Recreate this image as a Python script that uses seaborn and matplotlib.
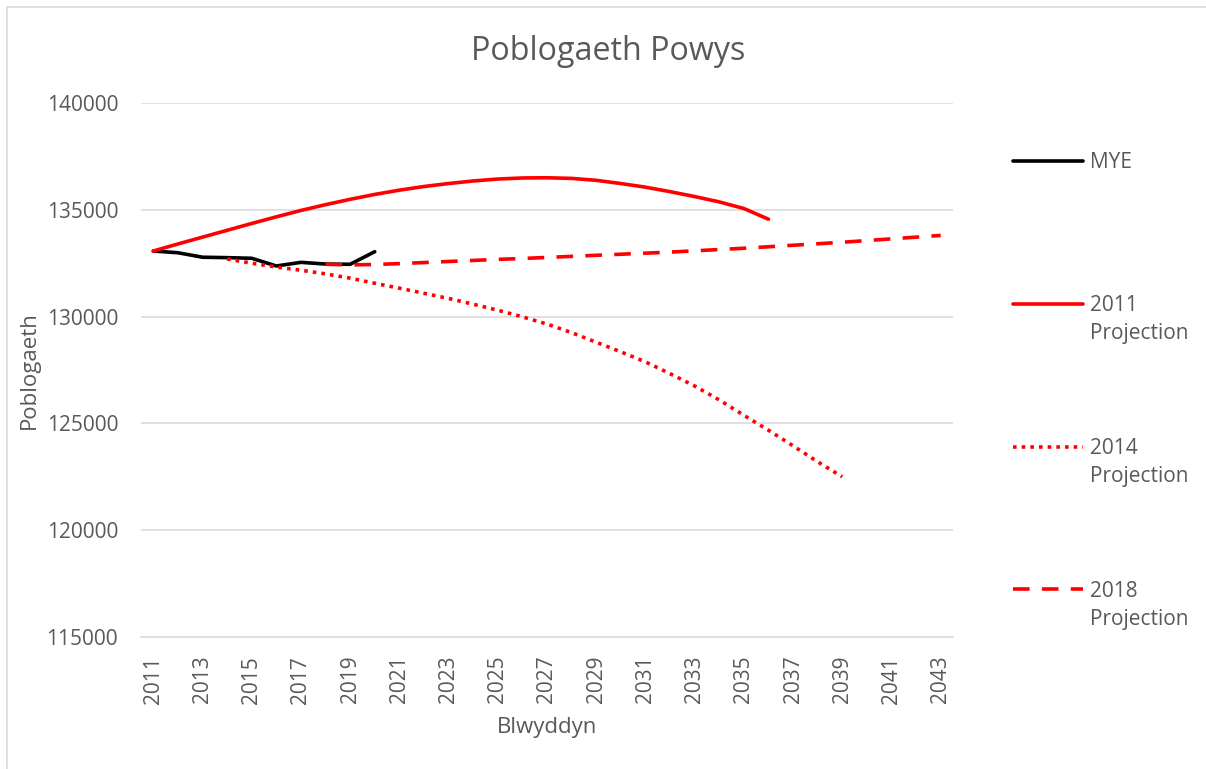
import matplotlib
matplotlib.use("Agg")
import pandas as pd
import matplotlib.pyplot as plt
from matplotlib.lines import Line2D
from matplotlib.ticker import FixedLocator, StrMethodFormatter
import seaborn as sns

# ---------- data ----------
mye_years = [2011, 2012, 2013, 2014, 2015, 2016, 2017, 2018, 2019, 2020]
mye_pop = [133070, 132990, 132780, 132760, 132730, 132370, 132540, 132460, 132450, 133040]

proj2011_years = [2011, 2012, 2013, 2014, 2015, 2016, 2017, 2018, 2019, 2020,
                  2021, 2022, 2023, 2024, 2025, 2026, 2027, 2028, 2029, 2030,
                  2031, 2032, 2033, 2034, 2035, 2036]
proj2011_pop = [133070, 133400, 133720, 134040, 134360, 134670, 134970, 135240, 135490, 135720,
                135920, 136090, 136230, 136350, 136440, 136490, 136500, 136470, 136380, 136230,
                136060, 135850, 135620, 135370, 135060, 134560]

proj2014_years = [2014, 2015, 2016, 2017, 2018, 2019, 2020, 2021, 2022, 2023,
                  2024, 2025, 2026, 2027, 2028, 2029, 2030, 2031, 2032, 2033,
                  2034, 2035, 2036, 2037, 2038, 2039]
proj2014_pop = [132700, 132500, 132320, 132170, 132000, 131800, 131560, 131330, 131090, 130850,
                130580, 130300, 129990, 129650, 129250, 128800, 128350, 127880, 127330, 126750,
                126100, 125380, 124680, 123950, 123200, 122500]

proj2018_years = [2018, 2019, 2020, 2021, 2022, 2023, 2024, 2025, 2026, 2027,
                  2028, 2029, 2030, 2031, 2032, 2033, 2034, 2035, 2036, 2037,
                  2038, 2039, 2040, 2041, 2042, 2043]
proj2018_pop = [132450, 132420, 132440, 132480, 132530, 132580, 132630, 132680, 132720, 132770,
                132820, 132870, 132920, 132970, 133020, 133080, 133140, 133200, 133270, 133340,
                133410, 133480, 133560, 133640, 133720, 133800]

year_labels = ["2011", "2013", "2015", "2017", "2019", "2021", "2023", "2025", "2027",
               "2029", "2031", "2033", "2035", "2037", "2039", "2041", "2043"]
y_ticks = [115000, 120000, 125000, 130000, 135000, 140000]

# ---------- style ----------
sns.set_style("white")
plt.rcParams["font.family"] = ["Open Sans", "DejaVu Sans"]
TXT = "#595959"
GRID = "#D9D9D9"
RED = "#FF0000"
LW = 2.6

W, H = 1206, 769
fig = plt.figure(figsize=(W / 100, H / 100), dpi=100)
ax = fig.add_axes([141 / W, 1 - 637 / H, (953 - 141) / W, (637 - 103) / H])

sns.lineplot(x=mye_years, y=mye_pop, ax=ax, color="black", lw=LW)
sns.lineplot(x=proj2011_years, y=proj2011_pop, ax=ax, color=RED, lw=LW)
sns.lineplot(x=proj2014_years, y=proj2014_pop, ax=ax, color=RED, lw=LW,
             linestyle=(0, (1, 1.4)))
sns.lineplot(x=proj2018_years, y=proj2018_pop, ax=ax, color=RED, lw=LW,
             linestyle=(0, (4.6, 3.4)))

# ---------- axes ----------
ax.set_xlim(2010.5, 2043.5)
ax.set_ylim(115000, 140000)
ax.set_yticks(y_ticks)
ax.yaxis.set_major_formatter(StrMethodFormatter("{x:.0f}"))
ax.set_xticks([int(s) for s in year_labels])
ax.set_xticklabels(year_labels, rotation=90)
ax.xaxis.set_minor_locator(FixedLocator([2010.5 + i for i in range(34)]))

ax.tick_params(axis="y", length=0, pad=16.5, labelsize=15, labelcolor=TXT)
ax.tick_params(axis="x", which="major", length=0, pad=13.5, labelsize=15, labelcolor=TXT)
ax.tick_params(axis="x", which="minor", direction="in", length=3.6, width=1.1, color=GRID)

ax.yaxis.grid(True, color=GRID, lw=1.1)
ax.set_axisbelow(True)
for side in ["left", "right", "top"]:
    ax.spines[side].set_visible(False)
ax.spines["bottom"].set_color(GRID)
ax.spines["bottom"].set_linewidth(1.1)

ax.set_xlabel("Blwyddyn", fontsize=16, color=TXT, labelpad=10)
ax.set_ylabel("Poblogaeth", fontsize=16, color=TXT, labelpad=4.5)

fig.text(608 / W, 1 - 52 / H, "Poblogaeth Powys", ha="center", va="center",
         fontsize=23.2, color=TXT)

# ---------- legend (Excel style: handle beside first line) ----------
blank = Line2D([], [], color="none")
h_mye = Line2D([], [], color="black", lw=LW)
h_11 = Line2D([], [], color=RED, lw=LW)
h_14 = Line2D([], [], color=RED, lw=LW, linestyle=(0, (1, 1.4)))
h_18 = Line2D([], [], color=RED, lw=LW, linestyle=(0, (4.6, 3.4)))
handles = [h_mye, blank, blank, blank, blank,
           h_11, blank, blank, blank, blank,
           h_14, blank, blank, blank, blank,
           h_18, blank]
labels = ["MYE", "", "", "", "",
          "2011", "Projection", "", "", "",
          "2014", "Projection", "", "", "",
          "2018", "Projection"]
leg = fig.legend(handles, labels, loc="upper left",
                 bbox_to_anchor=(1013 / W, 1 - 152 / H),
                 frameon=False, fontsize=15, borderpad=0, borderaxespad=0,
                 handlelength=3.37, handletextpad=0.34, labelspacing=0.364)
for t in leg.get_texts():
    t.set_color(TXT)

# chart area border (left + top edges visible in the reference)
fig.add_artist(Line2D([7 / W, 7 / W], [0, 1 - 7 / H], transform=fig.transFigure,
                      color=GRID, lw=1.1))
fig.add_artist(Line2D([7 / W, 1], [1 - 7 / H, 1 - 7 / H], transform=fig.transFigure,
                      color=GRID, lw=1.1))

fig.savefig("out.png", dpi=100)
